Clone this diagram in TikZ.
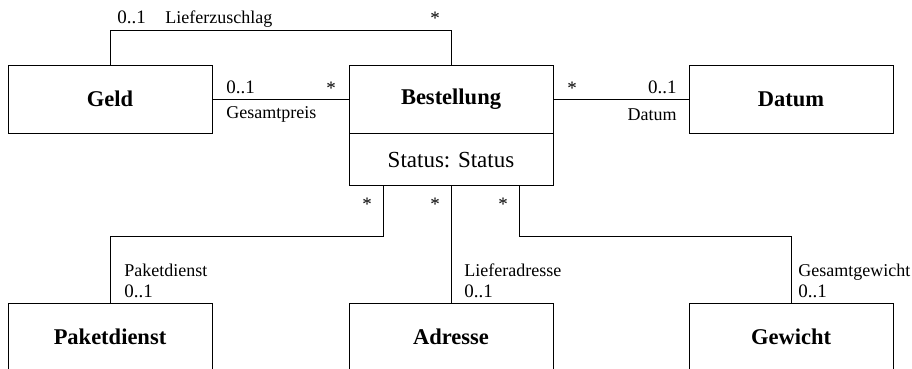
\documentclass[tikz,border=0pt]{standalone}
\usepackage{fontspec}
\setmainfont{Liberation Serif}
\begin{document}
\begin{tikzpicture}[x=1pt, y=-1pt, line width=.8pt,
  klasse/.style={draw, minimum width=204pt, minimum height=68pt, inner sep=0pt, font=\fontsize{22.5}{26}\selectfont\bfseries},
  attr/.style={draw, minimum width=204pt, minimum height=52pt, inner sep=0pt, font=\fontsize{23}{27}\selectfont},
  rolle/.style={inner sep=0pt, font=\fontsize{18}{21}\selectfont},
  mult/.style={inner sep=0pt, font=\fontsize{19}{22}\selectfont}]
\useasboundingbox (0,0) rectangle (912,369);
\clip (0,0) rectangle (912,369);
% Klassen
\node[klasse] (geld) at (110,99) {Geld};
\node[klasse] (best) at (451,99) {Bestellung};
\node[attr, anchor=north] (status) at (best.south) {Status: Status};
\node[klasse] (datum) at (791,99) {Datum};
\node[klasse] (paket) at (110,337) {Paketdienst};
\node[klasse] (adresse) at (451,337) {Adresse};
\node[klasse] (gewicht) at (791,337) {Gewicht};
% Assoziationen
\draw (geld.north) -- ++(0,-34) -| (best.north);
\draw (geld.east) -- (best.west);
\draw (best.east) -- (datum.west);
\draw ([xshift=-68pt]status.south) -- ++(0,50) -| (paket.north);
\draw (status.south) -- (adresse.north);
\draw ([xshift=68pt]status.south) -- ++(0,50) -| (gewicht.north);
% Rollen und Multiplizitaeten
\node[mult, anchor=base west] (m1) at (117,24) {0..1};
\node[rolle, anchor=base west] (r1) at (165,24) {Lieferzuschlag};
\node[mult, anchor=base] (m2) at (435,25) {*};
\node[mult, anchor=base west] (m3) at (226,93) {0..1};
\node[rolle, anchor=base west] (r2) at (226,118) {Gesamtpreis};
\node[mult, anchor=base] (m4) at (331,94) {*};
\node[mult, anchor=base] (m5) at (572,94) {*};
\node[mult, anchor=base east] (m6) at (677,93) {0..1};
\node[rolle, anchor=base east] (r3) at (677,120) {Datum};
\foreach \x/\n in {367/m7, 435/m8, 503/m9}
{
    \node[mult, anchor=base] (\n) at (\x,210) {*};
}
\node[rolle, anchor=base west] (r4) at (124,276) {Paketdienst};
\node[mult, anchor=base west] (m10) at (124,297) {0..1};
\node[rolle, anchor=base west] (r5) at (464,276) {Lieferadresse};
\node[mult, anchor=base west] (m11) at (464,297) {0..1};
\node[rolle, anchor=base west] (r6) at (798,276) {Gesamtgewicht};
\node[mult, anchor=base west] (m12) at (798,297) {0..1};
\end{tikzpicture}
\end{document}
